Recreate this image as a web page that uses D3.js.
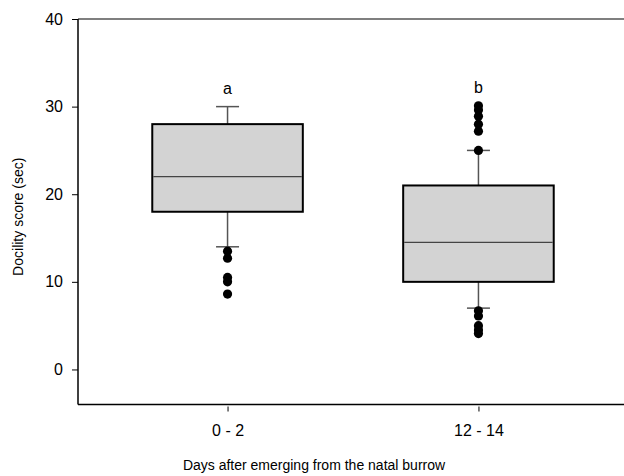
<!DOCTYPE html>
<html>
<head>
<meta charset="utf-8">
<script src="https://cdn.jsdelivr.net/npm/d3@7"></script>
<style>
  html, body { margin: 0; padding: 0; background: #fff; }
  svg { display: block; font-family: Arial, "Liberation Sans", sans-serif; }
</style>
</head>
<body>
<svg id="chart" width="624" height="476"></svg>
<script>
// ---- data ----
const categories = ["0 - 2", "12 - 14"];
const whiskerLow = [14, 7];
const q1 = [18, 10];
const median = [22, 14.5];
const q3 = [28, 21];
const whiskerHigh = [30, 25];
const outliers = [
  [13.5, 12.7, 10.5, 10, 8.6],
  [25, 27.2, 28, 28.9, 29.6, 30.1, 6.7, 6.1, 5, 4.5, 4.1]
];
const groupLetters = ["a", "b"];
const yTicks = [0, 10, 20, 30, 40];
const yTitle = "Docility score (sec)";
const xTitle = "Days after emerging from the natal burrow";

// ---- layout ----
const mLeft = 78, mRight = 628, mTop = 19, mBottom = 404.5;
const svg = d3.select("#chart");

const x = d3.scalePoint().domain(categories).range([mLeft, mRight]).padding(0.596);
const y = d3.scaleLinear().domain([-4, 40]).range([mBottom, mTop]);
const boxW = x.step() * 0.6;
const capW = 23;

// frame (top edge runs off the canvas on the right)
svg.append("line").attr("x1", mLeft).attr("x2", 640).attr("y1", mTop).attr("y2", mTop)
  .attr("stroke", "#555").attr("stroke-width", 1.5);

// y axis
const yAxis = d3.axisLeft(y).tickValues(yTicks).tickSize(6).tickPadding(9);
const gy = svg.append("g").attr("transform", `translate(${mLeft},0)`).call(yAxis);
gy.select(".domain").attr("stroke", "#000").attr("stroke-width", 1.5)
  .attr("d", `M0,${mTop}V${mBottom}`);
gy.selectAll(".tick line").attr("stroke", "#000");
gy.selectAll(".tick text").attr("font-size", 16).attr("fill", "#000")
  .attr("font-family", "Arial, 'Liberation Sans', sans-serif");

// x axis
const xAxis = d3.axisBottom(x).tickSize(6).tickPadding(14);
const gx = svg.append("g").attr("transform", `translate(0,${mBottom})`).call(xAxis);
gx.select(".domain").attr("stroke", "#000").attr("stroke-width", 1.5)
  .attr("d", `M${mLeft},0H640`);
gx.selectAll(".tick line").attr("stroke", "#000").attr("y1", 2).attr("y2", 7);
gx.selectAll(".tick text").attr("font-size", 16).attr("fill", "#000")
  .attr("font-family", "Arial, 'Liberation Sans', sans-serif");

// boxes
const idx = d3.range(categories.length);
const g = svg.append("g");
idx.forEach(i => {
  const cx = x(categories[i]);
  // whiskers
  g.append("line").attr("x1", cx).attr("x2", cx).attr("y1", y(q3[i])).attr("y2", y(whiskerHigh[i]))
    .attr("stroke", "#555").attr("stroke-width", 1.5);
  g.append("line").attr("x1", cx).attr("x2", cx).attr("y1", y(q1[i])).attr("y2", y(whiskerLow[i]))
    .attr("stroke", "#555").attr("stroke-width", 1.5);
  g.append("line").attr("x1", cx - capW / 2).attr("x2", cx + capW / 2)
    .attr("y1", y(whiskerHigh[i])).attr("y2", y(whiskerHigh[i]))
    .attr("stroke", "#555").attr("stroke-width", 1.5);
  g.append("line").attr("x1", cx - capW / 2).attr("x2", cx + capW / 2)
    .attr("y1", y(whiskerLow[i])).attr("y2", y(whiskerLow[i]))
    .attr("stroke", "#555").attr("stroke-width", 1.5);
  // box
  g.append("rect").attr("x", cx - boxW / 2).attr("width", boxW)
    .attr("y", y(q3[i])).attr("height", y(q1[i]) - y(q3[i]))
    .attr("fill", "#d3d3d3").attr("stroke", "#000").attr("stroke-width", 2);
  // median
  g.append("line").attr("x1", cx - boxW / 2 + 1).attr("x2", cx + boxW / 2 - 1)
    .attr("y1", y(median[i])).attr("y2", y(median[i]))
    .attr("stroke", "#444").attr("stroke-width", 1.2);
  // outliers
  g.selectAll(null).data(outliers[i]).enter().append("circle")
    .attr("cx", cx).attr("cy", d => y(d)).attr("r", 4.6).attr("fill", "#000");
  // letter
  const topVal = Math.max(whiskerHigh[i], d3.max(outliers[i]));
  g.append("text").attr("x", cx).attr("y", y(topVal) - 13)
    .attr("text-anchor", "middle").attr("font-size", 16).attr("fill", "#000")
    .text(groupLetters[i]);
});

// titles
svg.append("text").attr("transform", `translate(23,${(mTop + mBottom) / 2 + 5}) rotate(-90)`)
  .attr("text-anchor", "middle").attr("font-size", 14).attr("fill", "#000").text(yTitle);
svg.append("text").attr("x", 314).attr("y", 470)
  .attr("text-anchor", "middle").attr("font-size", 14).attr("fill", "#000").text(xTitle);
</script>
</body>
</html>
